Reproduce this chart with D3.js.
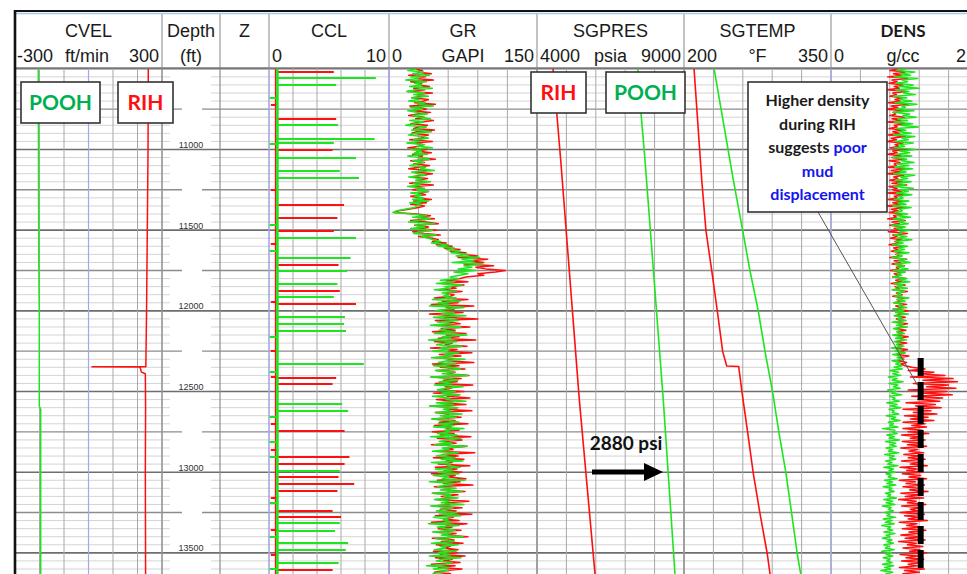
<!DOCTYPE html>
<html><head><meta charset="utf-8">
<script src="https://cdn.jsdelivr.net/npm/d3@7"></script>
<style>body{margin:0;background:#fff}svg{display:block}</style>
</head><body>
<svg id="c" width="967" height="574"></svg>
<script>
// ================= DATA =================
const trackNames = ["CVEL","Depth","Z","CCL","GR","SGPRES","SGTEMP","DENS"];
const trackUnits = ["ft/min","(ft)","","","GAPI","psia","°F","g/cc"];
const trackMin   = ["-300","","","0","0","4000","200","0"];
const trackMax   = ["300","","","10","150","9000","350","2"];
const depthTicks = [11000,11500,12000,12500,13000,13500];

// CVEL (ft/min)
const cvelPoohDepth = [10495,11700,12000,12590,12610,13631];
const cvelPoohVal   = [-205,-203,-201,-201,-195,-195];
const cvelRihDepth  = [10495,11000,11500,12000,12346,12347,12347,12348,12380,12390,12600,13000,13631];
const cvelRihVal    = [244,243,240,237,234,234,14,210,216,232,233,232,233];

// CCL spikes (depth, value 0-10)
const cclRihDepth = [10520,10809,10933,11001,11346,11425,11507,11714,11879,11957,12040,12127,12416,12453,12743,12908,12949,13032,13073,13115,13239,13280,13606];
const cclRihVal   = [5.4,5.6,6.9,5.3,6.25,5.7,5.4,5.8,5.9,7.25,6.3,6.4,5.6,5.3,6.3,6.7,6.3,5.8,7.1,5.7,5.3,6.0,5.3];
const cclPoohDepth = [10557,10600,10846,10933,10960,11053,11135,11177,11549,11671,11755,11832,11916,12040,12081,12127,12329,12577,12619,12991,13317,13363,13441,13482,13565];
const cclPoohVal   = [8.9,5.6,5.75,8.8,5.4,7.25,5.9,7.5,7.25,6.8,6.5,5.7,5.4,6.3,6.25,6.4,7.9,6.1,6.6,5.9,5.9,5.5,6.6,6.4,5.8];
const cclSmallDepth = [10681,10724,10966,11251,11468,11586,11629,11945,12162,12247,12377,12408,12658,12701,12811,12862,12904,13162,13193,13358,13400,13513,13600];
const cclBaseRih = 0.55, cclBasePooh = 0.7;

// GR (GAPI) sampled every 10 ft from 10500
const grStart = 10500, grStep = 10;
const grPooh = [
 28,19,35,24,41,22,30,17,38,26, 33,21,44,27,18,36,25,40,23,31, 20,37,29,45,22,34,19,28,39,24, 32,42,21,35,26,17,38,30,23,43,
 27,20,34,40,25,31,18,36,29,44, 22,33,26,39,19,30,41,24,35,28, 21,37,32,46,23,29,38,20,34,27, 42,25,31,19,36,28,40,22,33,26,
 35,24,40,21,33,28,
 26,16,8,4,22,38,
 24,42,30,20,46,27,36,22,44,31,25,48,33,40,
 45,52,43,60,50,66,58,72,63,
 80,68,92,74,86,64,95,76,84,70,88,66,80,72,62,
 70,52,66,48,74,56,62,46,68,54,60,
 55,68,44,72,50,62,41,76,58,47, 66,53,78,45,60,70,49,64,42,73, 57,51,67,46,79,54,63,40,69,58, 48,74,52,61,44,71,56,65,43,77,
 59,50,68,45,62,73,47,66,54,80, 42,60,70,51,64,46,75,57,49,67, 53,72,44,61,58,78,48,65,41,70, 55,63,47,74,52,68,43,60,71,50,
 66,45,76,56,62,49,69,42,73,58, 51,64,46,79,54,61,44,70,57,48, 67,53,75,43,62,59,72,47,65,50, 71,45,60,54,77,41,66,58,49,68,
 52,74,44,63,56,70,46,61,53,76, 42,65,57,48,69,51,73,45,60,55, 64,40,71,49,58,67,44,62,53,75, 47,59,66,43,70,52,57,46,68,50,
 62,41,73,54,48,64,56,38,61,45, 60,52,44];
const grRih = [
 24,34,29,43,20,37,27,45,22,33, 30,41,25,36,19,44,28,34,23,40, 35,26,47,21,31,38,24,42,29,20, 36,27,45,33,22,39,30,25,46,28,
 23,40,31,37,21,44,26,35,30,19, 38,28,43,24,34,29,47,22,36,25, 41,30,20,38,27,44,32,23,39,29, 35,21,45,27,33,24,40,30,37,22,
 30,43,25,38,22,36,
 30,20,10,5,28,42,
 28,46,22,38,50,26,40,30,48,24,36,52,30,44,
 50,44,58,48,64,56,72,62,78,
 74,90,70,100,82,96,76,106,88,98,118,108,90,96,78,
 72,58,80,54,76,62,68,50,74,58,66,
 62,46,80,54,70,43,86,58,66,49, 75,41,68,56,90,47,63,72,45,82, 53,67,44,78,58,71,50,88,46,64, 57,79,42,69,60,84,51,73,46,65,
 59,86,44,71,52,77,48,67,61,81, 43,73,55,69,47,85,57,63,50,76, 45,71,59,82,48,65,53,78,42,69, 57,84,47,61,55,73,44,67,51,80,
 46,63,58,71,44,66,52,83,49,74, 56,68,43,79,60,65,48,87,54,70, 45,76,58,64,50,82,47,69,56,74, 43,67,61,78,49,72,55,85,46,63,
 58,77,44,70,53,66,48,81,57,62, 45,74,52,68,59,84,47,65,55,71, 43,79,58,64,50,73,46,68,56,80, 44,66,53,75,48,62,57,70,45,69,
 52,77,47,64,55,72,43,67,50,74, 58,46,63];

// SGPRES (psia)
const presRihDepth = [10495,11065,12552,13631];
const presRihVal   = [4544,4806,5440,5973];
const presPoohDepth = [10495,10773,11065,12552,13631];
const presPoohVal   = [7425,7537,7673,8295,8693];

// SGTEMP (degF)
const tempRihDepth = [10495,11189,11503,11751,12001,12253,12342,12345,12505,12755,13007,13259,13507,13631];
const tempRihVal   = [210.2,218.1,222.4,228.3,234,239.5,243.6,255.8,259.2,265,270.7,277.6,285,287.8];
const tempPoohDepth = [10495,11189,11503,11751,12001,12253,12505,12755,13007,13259,13507,13631];
const tempPoohVal   = [230.6,250.3,259.9,267.3,275.8,282.7,290.5,296.9,304.1,309.9,315.6,319.1];

// DENS (g/cc) sampled every 10 ft from 10500
const densStart = 10500, densStep = 10;
const densPooh = [
 1.02,0.90,1.14,0.95,1.08,0.86,1.18,0.97,1.04,0.89, 1.12,0.93,1.20,0.88,1.06,0.99,1.15,0.85,1.03,0.94, 1.10,0.87,1.17,0.96,1.01,0.90,1.13,0.84,1.07,0.98, 1.16,0.91,1.04,0.86,1.11,0.95,1.19,0.89,1.02,0.93,
 1.09,0.85,1.14,0.97,1.05,0.88,1.12,0.92,1.00,0.86, 1.15,0.94,1.07,0.89,1.10,0.84,1.03,0.96,1.13,0.90, 1.06,0.87,1.11,0.93,1.02,0.85,1.14,0.95,1.04,0.88, 1.09,0.91,1.01,0.86,1.12,0.94,1.05,0.89,1.10,0.92,
 0.98,0.86,1.06,0.91,1.02,0.84,1.09,0.93,0.97,0.87, 1.04,0.90,1.08,0.85,0.99,0.92,1.05,0.83,1.01,0.89, 1.07,0.94,0.96,0.86,1.03,0.90,1.10,0.88,0.98,0.84, 1.04,0.92,1.00,0.86,1.06,0.89,0.97,0.83,1.02,0.93,
 1.08,0.87,0.99,0.91,1.05,0.85,1.01,0.90,0.96,0.84, 1.03,0.92,1.07,0.86,0.98,0.89,1.04,0.83,1.00,0.91, 0.95,0.87,1.06,0.90,1.01,0.85,0.97,0.92,1.03,0.84, 0.99,0.88,1.05,0.86,0.96,0.91,1.02,0.83,0.98,0.89,
 1.04,0.85,0.94,0.90,1.00,0.84,0.97,0.88,1.03,0.86, 0.93,0.89,0.99,0.82,0.96,0.87,1.01,0.84,0.95,0.90, 0.98,0.83,0.94,0.88,0.97,
 0.86,0.97,0.80,0.92,0.84,0.95,0.78,0.90,0.83,0.98, 0.79,0.91,0.85,0.94,0.77,0.89,0.82,0.96,0.80,0.87, 0.84,0.93,0.76,0.90,0.81,0.95,0.79,0.86,0.83,0.92, 0.75,0.88,0.82,0.94,0.78,0.85,0.80,0.91,0.70,0.87,
 0.83,0.90,0.76,0.86,0.79,0.93,0.74,0.88,0.81,0.89, 0.75,0.84,0.78,0.92,0.73,0.86,0.80,0.88,0.74,0.83, 0.77,0.91,0.72,0.85,0.79,0.87,0.75,0.82,0.78,0.90, 0.73,0.84,0.76,0.88,0.71,0.83,0.79,0.86,0.74,0.81,
 0.77,0.89,0.72,0.84,0.75,0.87,0.70,0.82,0.78,0.85, 0.73,0.80,0.76,0.88,0.71,0.83,0.74,0.86,0.69,0.81, 0.77,0.84,0.72,0.87,0.75,0.80,0.70,0.83,0.76,0.85, 0.72,0.79,0.74,0.86,0.69,0.82,0.75,0.84,0.71,0.80,
 0.76,0.83,0.70,0.85,0.73,0.81,0.68,0.84,0.74];
const densRih = [
 0.92,0.80,1.01,0.85,0.96,0.77,1.04,0.83,0.90,0.79, 0.98,0.86,0.93,0.76,1.02,0.84,0.89,0.80,0.97,0.87, 0.94,0.78,1.05,0.82,0.91,0.76,0.99,0.85,0.88,0.80, 1.00,0.83,0.95,0.77,1.03,0.86,0.90,0.79,0.97,0.84,
 0.93,0.78,1.01,0.82,0.89,0.76,0.98,0.87,0.92,0.80, 1.04,0.84,0.90,0.77,0.96,0.83,1.00,0.79,0.94,0.86, 0.89,0.78,1.02,0.82,0.95,0.76,0.99,0.85,0.91,0.80, 0.97,0.83,1.03,0.79,0.90,0.84,0.96,0.77,1.00,0.86,
 0.90,0.78,0.99,0.84,0.94,0.76,1.02,0.82,0.91,0.79, 0.97,0.85,0.89,0.77,1.01,0.83,0.93,0.80,0.98,0.86, 0.92,0.78,1.04,0.84,0.90,0.81,0.96,0.87,0.93,0.79, 1.00,0.85,0.91,0.82,0.98,0.88,0.94,0.80,1.03,0.86,
 0.95,0.83,1.00,0.89,0.92,0.81,0.99,0.86,0.94,0.84, 1.02,0.88,0.96,0.82,1.01,0.87,0.93,0.85,1.04,0.89, 0.97,0.84,1.00,0.90,0.95,0.86,1.03,0.88,0.98,0.85, 1.05,0.91,0.96,0.87,1.01,0.89,0.99,0.86,1.04,0.92,
 0.97,0.88,1.02,0.90,0.98,0.87,1.05,0.93,0.99,0.89, 1.03,0.91,0.97,0.88,1.04,0.94,1.00,0.90,1.06,0.93, 0.99,0.91,1.03,0.95,1.01,
 1.10,1.28,1.05,1.40,1.20,
 1.55,1.08,1.66,1.25,1.72,1.12,1.60,1.30,1.70,1.05,1.58,1.22,1.65,1.10,1.52,
 1.18,1.48,1.02,1.42,1.15,1.50,0.98,1.36,1.12,1.44,1.00,1.32,1.08,1.40,0.98,1.28,
 1.10,1.30,0.98,1.24,1.05,1.33,0.96,1.20,1.08,1.28,0.97,1.22,1.04,1.30,0.95,1.18,1.06,1.26,0.99,1.21,
 1.05,1.28,0.96,1.20,1.08,1.31,0.94,1.17,1.03,1.25, 0.97,1.22,1.06,1.30,0.93,1.15,1.02,1.27,0.98,1.19, 1.07,1.32,0.95,1.21,1.01,1.26,0.92,1.16,1.04,1.29,
 0.96,1.23,1.08,1.18,0.94,1.27,1.00,1.20,1.05,1.31, 0.93,1.17,1.03,1.24,0.97,1.29,1.06,1.19,0.95,1.22, 1.01,1.28,0.92,1.16,1.04,1.25,0.98,1.21,1.07,1.30,
 0.94,1.18,1.02,1.26,0.96,1.23,1.05,1.17,0.93,1.27, 1.00,1.20,0.97];
const densRefVal = 1.22, densRefTop = 12292;

// ================= LAYOUT =================
const RED = "#ff1010", GREEN = "#1ee61e", BLUEGRID = "#a3a8ea";
const plotTop = 68, plotBot = 574;
const edges = [15,162,220,269,389,537,684,831,978];
const svg = d3.select("#c");

const y = d3.scaleLinear().domain([10495,13631]).range([plotTop, plotBot]);
const ySnap = d => Math.round(y(d));
const xCV = d3.scaleLinear().domain([-300,300]).range([15,162]);
const xCCL = d3.scaleLinear().domain([0,10]).range([269,389]);
const xGR = d3.scaleLinear().domain([0,150]).range([389,537]);
const xP = d3.scaleLinear().domain([4000,9000]).range([537,684]);
const xT = d3.scaleLinear().domain([200,350]).range([684,831]);
const xD = d3.scaleLinear().domain([0,2]).range([831,978]);

svg.append("defs").append("clipPath").attr("id","pc")
  .append("rect").attr("x",15).attr("y",plotTop).attr("width",967-15).attr("height",plotBot-plotTop);
const plot = svg.append("g").attr("clip-path","url(#pc)");
const grid = plot.append("g");

// horizontal grid
const hl = (x1,x2,yy,col,w) => grid.append("line").attr("x1",x1).attr("x2",x2).attr("y1",yy).attr("y2",yy).attr("stroke",col).attr("stroke-width",w);
d3.range(10500,13650,50).forEach(d => {
  const yy = y(d);
  if (d % 500 === 0) hl(15,978,yy,"#6e6e6e",1.6);
  else if (d % 250 === 0) { hl(15,182,yy,"#8c8c8c",1.4); hl(202,978,yy,"#8c8c8c",1.4); }
  else { hl(15,170,yy,"#d4d4d4",1); hl(211,978,yy,"#d4d4d4",1); }
});

// vertical grid
const vl = (xx,col,w) => grid.append("line").attr("x1",xx).attr("x2",xx).attr("y1",plotTop).attr("y2",plotBot).attr("stroke",col).attr("stroke-width",w);
[[xCV,-300,300,100],[xCCL,0,10,2],[xGR,0,150,30],[xP,4000,9000,1000],[xT,200,350,30],[xD,0,2,0.4]].forEach(([s,a,b,st]) => {
  d3.range(a, b+st/2, st).forEach(v => vl(s(v), "#a8a8a8", 1));
});
[162,220].forEach(xx => vl(xx,"#8e8e8e",1.2));
[xCV(0), xCCL(0), xCCL(10), xGR(0), xD(0)].forEach(xx => vl(xx, BLUEGRID, 1.2));
[537,684].forEach(xx => vl(xx,"#8e8e8e",1.2));

// depth labels
plot.selectAll("text.dl").data(depthTicks).join("text")
  .attr("x",191).attr("y",d=>y(d)-1.5).attr("text-anchor","middle")
  .attr("font-family","Liberation Sans, Arial, sans-serif").attr("font-size",9).attr("fill","#333")
  .text(d=>d);

// ---------- CCL ----------
const ccl = plot.append("g");
ccl.append("line").attr("x1",xCCL(cclBaseRih)).attr("x2",xCCL(cclBaseRih)).attr("y1",plotTop).attr("y2",plotBot).attr("stroke",RED).attr("stroke-width",1.5);
ccl.selectAll("line.rs").data(d3.zip(cclRihDepth,cclRihVal)).join("line")
  .attr("x1",xCCL(cclBaseRih)).attr("x2",d=>xCCL(d[1])).attr("y1",d=>ySnap(d[0])).attr("y2",d=>ySnap(d[0]))
  .attr("stroke",RED).attr("stroke-width",2);
ccl.selectAll("line.gs").data(d3.zip(cclPoohDepth,cclPoohVal)).join("line")
  .attr("x1",xCCL(cclBasePooh)).attr("x2",d=>xCCL(d[1])).attr("y1",d=>ySnap(d[0])).attr("y2",d=>ySnap(d[0]))
  .attr("stroke",GREEN).attr("stroke-width",2);
ccl.selectAll("line.sm").data(cclSmallDepth).join("line")
  .attr("x1",xCCL(cclBasePooh)).attr("x2",(d,i)=>xCCL(i%2?0.15:0.05)).attr("y1",d=>ySnap(d)).attr("y2",d=>ySnap(d))
  .attr("stroke",(d,i)=>i%2?RED:GREEN).attr("stroke-width",2);
ccl.append("line").attr("x1",xCCL(cclBasePooh)).attr("x2",xCCL(cclBasePooh)).attr("y1",plotTop).attr("y2",plotBot).attr("stroke",GREEN).attr("stroke-width",2.6);

// ---------- generic curve helper ----------
function curve(xs, depths, vals, col, w){
  const line = d3.line().x(d=>xs(d[1])).y(d=>y(d[0]));
  plot.append("path").datum(d3.zip(depths, vals)).attr("d", line)
    .attr("fill","none").attr("stroke",col).attr("stroke-width",w).attr("stroke-linejoin","round");
}
const sampled = (start, step, vals) => vals.map((v,i)=>start+i*step);

// GR
curve(xGR, sampled(grStart,grStep,grRih), grRih, RED, 1.5);
curve(xGR, sampled(grStart,grStep,grPooh), grPooh, GREEN, 1.5);
// SGPRES
curve(xP, presRihDepth, presRihVal, RED, 1.6);
curve(xP, presPoohDepth, presPoohVal, GREEN, 1.6);
// SGTEMP
curve(xT, tempRihDepth, tempRihVal, RED, 1.6);
curve(xT, tempPoohDepth, tempPoohVal, GREEN, 1.6);
// CVEL
curve(xCV, cvelPoohDepth, cvelPoohVal, GREEN, 1.5);
curve(xCV, cvelRihDepth, cvelRihVal, RED, 1.5);
// DENS
curve(xD, sampled(densStart,densStep,densRih), densRih, RED, 1.5);
curve(xD, sampled(densStart,densStep,densPooh), densPooh, GREEN, 1.5);
plot.append("line").attr("x1",xD(densRefVal)).attr("x2",xD(densRefVal))
  .attr("y1",y(densRefTop)).attr("y2",plotBot+10)
  .attr("stroke","#000").attr("stroke-width",6).attr("stroke-dasharray","18,6");

// ---------- header ----------
const hdr = svg.append("g").attr("font-family","Liberation Sans, Arial, sans-serif").attr("fill","#1a1a1a");
edges.slice(1,8).forEach(xx => hdr.append("line").attr("x1",xx).attr("x2",xx).attr("y1",13).attr("y2",plotTop).attr("stroke","#9a9a9a").attr("stroke-width",1.2));
hdr.append("line").attr("x1",15).attr("x2",967).attr("y1",plotTop).attr("y2",plotTop).attr("stroke","#7a7a7a").attr("stroke-width",1.5);
trackNames.forEach((n,i) => {
  const x0 = edges[i], x1 = edges[i+1], cx = (x0+x1)/2;
  const t = hdr.append("text").attr("x", i===7 ? 903 : cx).attr("y",37).attr("text-anchor","middle").attr("font-size", i===7?17:18).text(n);
  if (i===7) t.attr("font-weight","bold").attr("font-family","Lato, Liberation Sans, sans-serif");
  if (trackUnits[i]) hdr.append("text").attr("x", i===7 ? 903 : (i===0 ? 87 : cx)).attr("y",62).attr("text-anchor","middle").attr("font-size",18).text(trackUnits[i]);
  if (trackMin[i]) hdr.append("text").attr("x",x0+(i===0?2:3)).attr("y",62).attr("font-size",18).text(trackMin[i]);
  if (trackMax[i]) hdr.append("text").attr("x", i===7 ? 956 : x1-3).attr("y",62).attr("text-anchor", i===7?"start":"end").attr("font-size",18).text(trackMax[i]);
});
// frame
svg.append("line").attr("x1",14).attr("x2",967).attr("y1",11).attr("y2",11).attr("stroke","#111").attr("stroke-width",2);
svg.append("line").attr("x1",16).attr("x2",967).attr("y1",13.5).attr("y2",13.5).attr("stroke","#a9c6ea").attr("stroke-width",1.5);
svg.append("line").attr("x1",15).attr("x2",15).attr("y1",10).attr("y2",574).attr("stroke","#111").attr("stroke-width",2.6);

// ---------- annotations ----------
const ann = svg.append("g").attr("font-family","Lato, Open Sans, sans-serif").attr("font-weight","bold");
function box(x,yy,w,h){ ann.append("rect").attr("x",x).attr("y",yy).attr("width",w).attr("height",h).attr("fill","#fff").attr("stroke","#333").attr("stroke-width",1.6); }
function label(x,yy,txt,col,size){ ann.append("text").attr("x",x).attr("y",yy).attr("text-anchor","middle").attr("font-size",size).attr("fill",col).text(txt); }
box(21,82,79,41); label(60.5,110,"POOH","#00b050",21);
box(118,82,55,41); label(145.5,110,"RIH",RED,21);
box(531,72,55,41); label(558.5,100,"RIH",RED,21);
box(606,72,79,41); label(645.5,100,"POOH","#00b050",21);
ann.append("line").attr("x1",818).attr("y1",212).attr("x2",918).attr("y2",386).attr("stroke","#555").attr("stroke-width",1);
box(748,82,139,130);
const noteLines = [[["Higher density","#1a1a1a"]],[["during RIH","#1a1a1a"]],[["suggests ","#1a1a1a"],["poor","#1515ee"]],[["mud","#1515ee"]],[["displacement","#1515ee"]]];
noteLines.forEach((ln,i) => {
  const t = ann.append("text").attr("x",817.5).attr("y",106+i*23.6).attr("text-anchor","middle").attr("font-size",16);
  ln.forEach(([s,c]) => t.append("tspan").attr("fill",c).text(s));
});
label(626,450,"2880 psi","#111",19);
ann.append("line").attr("x1",592).attr("x2",647).attr("y1",472).attr("y2",472).attr("stroke","#000").attr("stroke-width",5);
ann.append("path").attr("d","M644,463 L663,472 L644,481 Z").attr("fill","#000");
</script>
</body></html>
